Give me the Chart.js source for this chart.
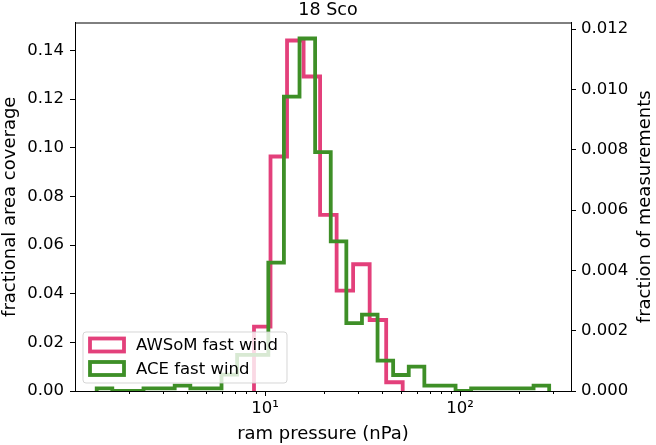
<!DOCTYPE html>
<html>
<head>
<meta charset="utf-8">
<script src="https://cdn.jsdelivr.net/npm/chart.js@4.4.1/dist/chart.umd.min.js"></script>
<style>
  html, body { margin: 0; padding: 0; background: #fff; }
  #wrap { width: 656px; height: 445px; }
</style>
</head>
<body>
<div id="wrap"><canvas id="histChart" width="656" height="445"></canvas></div>
<script>
// bin edges (nPa), log-spaced
const awsomEdges = [8.78, 10.67, 12.97, 15.77, 19.16, 23.29, 28.30, 34.40, 41.81, 50.81];
const awsomValues = [0.0265, 0.0964, 0.1441, 0.1293, 0.0724, 0.0413, 0.0521, 0.0292, 0.0036];

const aceEdges = [1.371, 1.648, 1.982, 2.382, 2.864, 3.443, 4.140, 4.977, 5.984, 7.194,
                  8.650, 10.40, 12.50, 15.03, 18.07, 21.73, 26.12, 31.41, 37.76, 45.39,
                  54.58, 65.61, 78.89, 94.84, 114.0, 137.1, 164.8, 198.2, 238.2, 286.4];
const aceValues = [0.00009, 0, 0, 0.00009, 0.00009, 0.00018, 0.00009, 0.00009, 0.00054, 0.0012,
                   0.0012, 0.00426, 0.00976, 0.01169, 0.00792, 0.00496, 0.00225, 0.00253, 0.00101, 0.00053,
                   0.00081, 0.00018, 0.00018, 0, 0.00009, 0.00009, 0.00009, 0.00009, 0.00018];

const xMajorTicks = [10, 100];
const xMajorLabels = ['10¹', '10²'];
const xMinorTicks = [2, 3, 4, 5, 6, 7, 8, 9, 20, 30, 40, 50, 60, 70, 80, 90, 200, 300];
const yLeftTicks = [0, 0.02, 0.04, 0.06, 0.08, 0.10, 0.12, 0.14];
const yRightTicks = [0, 0.002, 0.004, 0.006, 0.008, 0.010, 0.012];
const rightTitle = 'fraction of measurements';

const pink = '#e3407b';
const green = '#3e8f27';

// outline of a step histogram: up at the first edge, across each bin, down at the last edge
function stepPoints(edges, values) {
    const pts = [{ x: edges[0], y: 0 }];
    values.forEach((v, i) => pts.push({ x: edges[i], y: v }));
    pts.push({ x: edges[edges.length - 1], y: values[values.length - 1] });
    pts.push({ x: edges[edges.length - 1], y: 0 });
    return pts;
}

const frameAndExtras = {
    id: 'frameAndExtras',
    afterDraw(chart) {
        const { ctx, chartArea: a } = chart;
        const xs = chart.scales.x;
        ctx.save();
        // minor ticks on the log axis
        ctx.strokeStyle = '#000';
        ctx.lineWidth = 1;
        xMinorTicks.forEach(v => {
            const px = Math.round(xs.getPixelForValue(v)) + 0.5;
            if (px < a.left || px > a.right) return;
            ctx.beginPath();
            ctx.moveTo(px, a.bottom);
            ctx.lineTo(px, a.bottom + 3);
            ctx.stroke();
        });
        // top spine
        ctx.beginPath();
        ctx.moveTo(a.left, a.top + 0.5);
        ctx.lineTo(a.right, a.top + 0.5);
        ctx.stroke();

        // right axis title, reading bottom to top like the left one
        ctx.save();
        ctx.translate(chart.width - 11, (a.top + a.bottom) / 2);
        ctx.rotate(-Math.PI / 2);
        ctx.font = '18px "DejaVu Sans"';
        ctx.fillStyle = '#000';
        ctx.textAlign = 'center';
        ctx.textBaseline = 'middle';
        ctx.fillText(rightTitle, 0, 0);
        ctx.restore();

        // legend box in the lower left corner
        const bx = a.left + 8, by = a.bottom - 59, bw = 204, bh = 51;
        ctx.fillStyle = 'rgba(255,255,255,0.8)';
        ctx.strokeStyle = 'rgba(204,204,204,0.8)';
        ctx.lineWidth = 1;
        ctx.beginPath();
        ctx.roundRect(bx, by, bw, bh, 3);
        ctx.fill();
        ctx.stroke();
        const entries = [chart.data.datasets[1], chart.data.datasets[0]];
        ctx.font = '16.5px "DejaVu Sans"';
        ctx.textBaseline = 'middle';
        ctx.textAlign = 'left';
        entries.forEach((ds, i) => {
            const cy = by + 13 + i * 23.5;
            ctx.strokeStyle = ds.borderColor;
            ctx.lineWidth = 3.8;
            ctx.lineJoin = 'miter';
            ctx.strokeRect(bx + 7, cy - 6.5, 34, 13);
            ctx.fillStyle = '#000';
            ctx.fillText(ds.label, bx + 53, cy + 1);
        });
        ctx.restore();
    }
};

Chart.defaults.font.family = '"DejaVu Sans"';
Chart.defaults.font.size = 16.5;
Chart.defaults.color = '#000';

const ctx = document.getElementById('histChart').getContext('2d');
new Chart(ctx, {
    type: 'line',
    data: {
        datasets: [
            {
                label: 'ACE fast wind',
                data: stepPoints(aceEdges, aceValues),
                yAxisID: 'y2',
                borderColor: green,
                borderWidth: 3.8,
                stepped: 'before',
                pointRadius: 0,
                fill: false,
                borderJoinStyle: 'miter',
                order: 0
            },
            {
                label: 'AWSoM fast wind',
                data: stepPoints(awsomEdges, awsomValues),
                yAxisID: 'y',
                borderColor: pink,
                borderWidth: 3.8,
                stepped: 'before',
                pointRadius: 0,
                fill: false,
                borderJoinStyle: 'miter',
                order: 1
            }
        ]
    },
    options: {
        responsive: false,
        animation: false,
        layout: { padding: 0 },
        plugins: {
            legend: { display: false },
            tooltip: { enabled: false },
            title: {
                display: true,
                text: '18 Sco',
                font: { size: 17.5, weight: 'normal' },
                color: '#000',
                padding: { top: 0, bottom: 1.5 }
            }
        },
        scales: {
            x: {
                type: 'logarithmic',
                min: 1.061,
                max: 370.6,
                afterBuildTicks: s => { s.ticks = xMajorTicks.map(v => ({ value: v, major: true })); },
                afterFit: s => { s.height = 54; },
                ticks: {
                    autoSkip: false,
                    maxRotation: 0,
                    padding: 3,
                    callback: v => xMajorLabels[xMajorTicks.indexOf(v)] || ''
                },
                grid: { drawOnChartArea: false, tickLength: 5, color: '#000', tickColor: '#000' },
                border: { display: true, color: '#000', width: 1 },
                title: { display: true, text: 'ram pressure (nPa)', font: { size: 18 }, padding: { top: 0, bottom: 0 } }
            },
            y: {
                position: 'left',
                min: 0,
                max: 0.1515,
                afterBuildTicks: s => { s.ticks = yLeftTicks.map(v => ({ value: v })); },
                afterFit: s => { s.width = 75; },
                ticks: { padding: 6, callback: v => v.toFixed(2) },
                grid: { drawOnChartArea: false, tickLength: 5, color: '#000', tickColor: '#000' },
                border: { display: true, color: '#000', width: 1 },
                title: { display: true, text: 'fractional area coverage', font: { size: 18 }, padding: { top: 0, bottom: 0 } }
            },
            y2: {
                position: 'right',
                min: 0,
                max: 0.01222,
                afterBuildTicks: s => { s.ticks = yRightTicks.map(v => ({ value: v })); },
                afterFit: s => { s.width = 85; },
                ticks: { padding: 5, callback: v => v.toFixed(3) },
                grid: { drawOnChartArea: false, tickLength: 5, color: '#000', tickColor: '#000' },
                border: { display: true, color: '#000', width: 1 },
                title: { display: false }
            }
        }
    },
    plugins: [frameAndExtras]
});
</script>
</body>
</html>
